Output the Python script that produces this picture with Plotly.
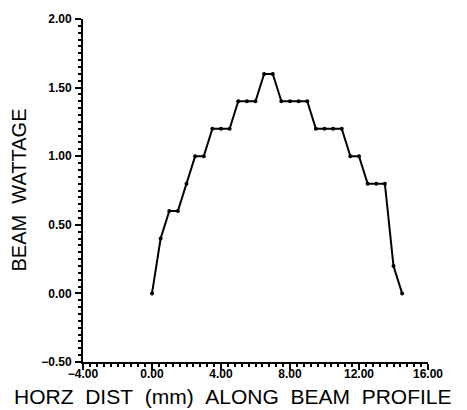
import plotly.graph_objects as go

# Beam wattage sampled every 0.5 mm along the beam profile
dist_mm = [0.0, 0.5, 1.0, 1.5, 2.0, 2.5, 3.0, 3.5, 4.0, 4.5,
           5.0, 5.5, 6.0, 6.5, 7.0, 7.5, 8.0, 8.5, 9.0, 9.5,
           10.0, 10.5, 11.0, 11.5, 12.0, 12.5, 13.0, 13.5, 14.0, 14.5]
wattage = [0.0, 0.4, 0.6, 0.6, 0.8, 1.0, 1.0, 1.2, 1.2, 1.2,
           1.4, 1.4, 1.4, 1.6, 1.6, 1.4, 1.4, 1.4, 1.4, 1.2,
           1.2, 1.2, 1.2, 1.0, 1.0, 0.8, 0.8, 0.8, 0.2, 0.0]

GAP = "\u00a0" * 2
x_title = GAP.join(["HORZ", "DIST", "(mm)", "ALONG", "BEAM", "PROFILE"])
y_title = GAP.join(["BEAM", "WATTAGE"])

FONT = "Liberation Sans, Arial, sans-serif"

fig = go.Figure()
fig.add_trace(go.Scatter(
    x=dist_mm, y=wattage, mode="lines+markers",
    line=dict(color="black", width=2),
    marker=dict(color="black", size=4),
    showlegend=False,
))

axis_common = dict(
    showgrid=False, zeroline=False, showline=True, linecolor="black",
    linewidth=2, ticks="outside", ticklen=6, tickwidth=2, tickcolor="black",
    tickformat=".2f", mirror=False,
    tickfont=dict(family=FONT, size=12, color="black", weight="bold"),
)

fig.update_xaxes(
    range=[-4, 16], tick0=-4, dtick=4, ticklabelstandoff=-6,
    minor=dict(dtick=0.4, tick0=-4, ticks="outside", ticklen=3,
               tickwidth=1.5, tickcolor="black"),
    **axis_common,
)
fig.update_yaxes(
    range=[-0.5, 2.0], tick0=-0.5, dtick=0.5, ticklabelstandoff=1,
    minor=dict(dtick=0.05, tick0=-0.5, ticks="outside", ticklen=3,
               tickwidth=1.5, tickcolor="black"),
    **axis_common,
)

fig.add_annotation(
    text=x_title, xref="paper", yref="paper", x=0.435, y=0,
    yshift=-21, xanchor="center", yanchor="top", showarrow=False,
    font=dict(family=FONT, size=21, color="black"),
)
fig.add_annotation(
    text=y_title, xref="paper", yref="paper", x=0, y=0.50,
    xshift=-65, xanchor="center", yanchor="middle", showarrow=False,
    textangle=-90,
    font=dict(family=FONT, size=20, color="black"),
)

fig.update_layout(
    width=467, height=410,
    margin=dict(l=83, r=39, t=13, b=48),
    paper_bgcolor="white", plot_bgcolor="white",
)

fig.write_html("out.html")
